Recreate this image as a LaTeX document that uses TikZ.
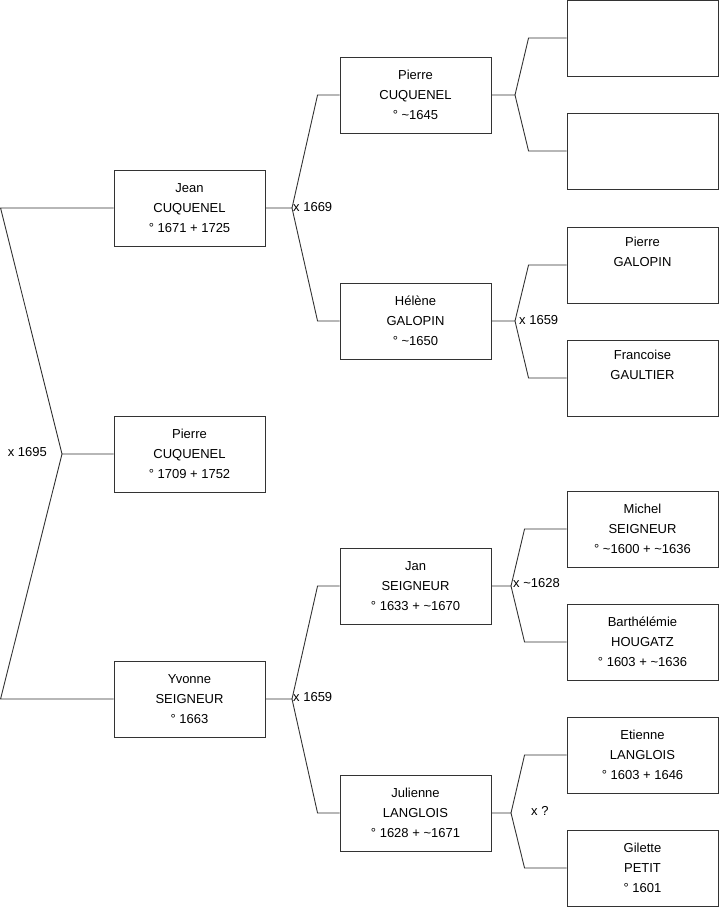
\documentclass[tikz,border=0pt]{standalone}
\usepackage{fontspec}
\setmainfont{Liberation Sans}
\usetikzlibrary{calc}

\newcommand{\abt}{\textasciitilde}

\tikzset{
  person/.style={draw=black!80, line width=0.9pt, minimum width=151pt,
    minimum height=76pt, inner sep=0pt, align=center,
    font=\fontsize{13}{20}\selectfont},
  link/.style={draw=black!80, line width=0.9pt},
  union/.style={inner sep=0pt, font=\fontsize{13}{16}\selectfont}
}

\begin{document}
\begin{tikzpicture}[x=1pt,y=-1pt]
  \useasboundingbox (0,0) rectangle (719,908);

  % generation 1 and 2
  \node[person] (pierre) at (189.5,454) {Pierre\\CUQUENEL\\° 1709 + 1752};
  \node[person] (jean)   at (189.5,208) {Jean\\CUQUENEL\\° 1671 + 1725};
  \node[person] (yvonne) at (189.5,699) {Yvonne\\SEIGNEUR\\° 1663};

  % generation 3
  \node[person] (pierrec)  at (415.5,95)  {Pierre\\CUQUENEL\\° \abt1645};
  \node[person] (helene)   at (415.5,321) {Hélène\\GALOPIN\\° \abt1650};
  \node[person] (jan)      at (415.5,586) {Jan\\SEIGNEUR\\° 1633 + \abt1670};
  \node[person] (julienne) at (415.5,813) {Julienne\\LANGLOIS\\° 1628 + \abt1671};

  % generation 4
  \node[person] (pc1) at (642.5,38)  {};
  \node[person] (pc2) at (642.5,151) {};
  \node[person] (hg1) at (642.5,265) {Pierre\\GALOPIN\\\strut};
  \node[person] (hg2) at (642.5,378) {Francoise\\GAULTIER\\\strut};
  \node[person] (js1) at (642.5,529) {Michel\\SEIGNEUR\\° \abt1600 + \abt1636};
  \node[person] (js2) at (642.5,642) {Barthélémie\\HOUGATZ\\° 1603 + \abt1636};
  \node[person] (jl1) at (642.5,755) {Etienne\\LANGLOIS\\° 1603 + 1646};
  \node[person] (jl2) at (642.5,868) {Gilette\\PETIT\\° 1601};

  % unions
  \coordinate (u0) at (62,454);
  \coordinate (u1) at (292,208);
  \coordinate (u2) at (292,699);
  \coordinate (u3) at (515,95);
  \coordinate (u4) at (515,321);
  \coordinate (u5) at (511,586);
  \coordinate (u6) at (511,813);

  \draw[link] (pierre.west) -- (u0) -- ([xshift=-113pt]jean.west) -- (jean.west);
  \draw[link] (u0) -- ([xshift=-113pt]yvonne.west) -- (yvonne.west);

  \draw[link] (jean.east) -- (u1) -- ([xshift=-22pt]pierrec.west) -- (pierrec.west);
  \draw[link] (u1) -- ([xshift=-22pt]helene.west) -- (helene.west);
  \draw[link] (yvonne.east) -- (u2) -- ([xshift=-22pt]jan.west) -- (jan.west);
  \draw[link] (u2) -- ([xshift=-22pt]julienne.west) -- (julienne.west);

  \draw[link] (pierrec.east) -- (u3) -- ([xshift=-38pt]pc1.west) -- (pc1.west);
  \draw[link] (u3) -- ([xshift=-38pt]pc2.west) -- (pc2.west);
  \draw[link] (helene.east) -- (u4) -- ([xshift=-38pt]hg1.west) -- (hg1.west);
  \draw[link] (u4) -- ([xshift=-38pt]hg2.west) -- (hg2.west);
  \draw[link] (jan.east) -- (u5) -- ([xshift=-42pt]js1.west) -- (js1.west);
  \draw[link] (u5) -- ([xshift=-42pt]js2.west) -- (js2.west);
  \draw[link] (julienne.east) -- (u6) -- ([xshift=-42pt]jl1.west) -- (jl1.west);
  \draw[link] (u6) -- ([xshift=-42pt]jl2.west) -- (jl2.west);

  % marriage dates
  \node[union,anchor=east] (x0) at (47,452)  {x 1695};
  \node[union,anchor=west] (x1) at (293,207) {x 1669};
  \node[union,anchor=west] (x2) at (293,697) {x 1659};
  \node[union,anchor=west] (x4) at (519,320) {x 1659};
  \node[union,anchor=west] (x5) at (513,583) {x \abt1628};
  \node[union,anchor=west] (x6) at (531,811) {x ?};
\end{tikzpicture}
\end{document}
